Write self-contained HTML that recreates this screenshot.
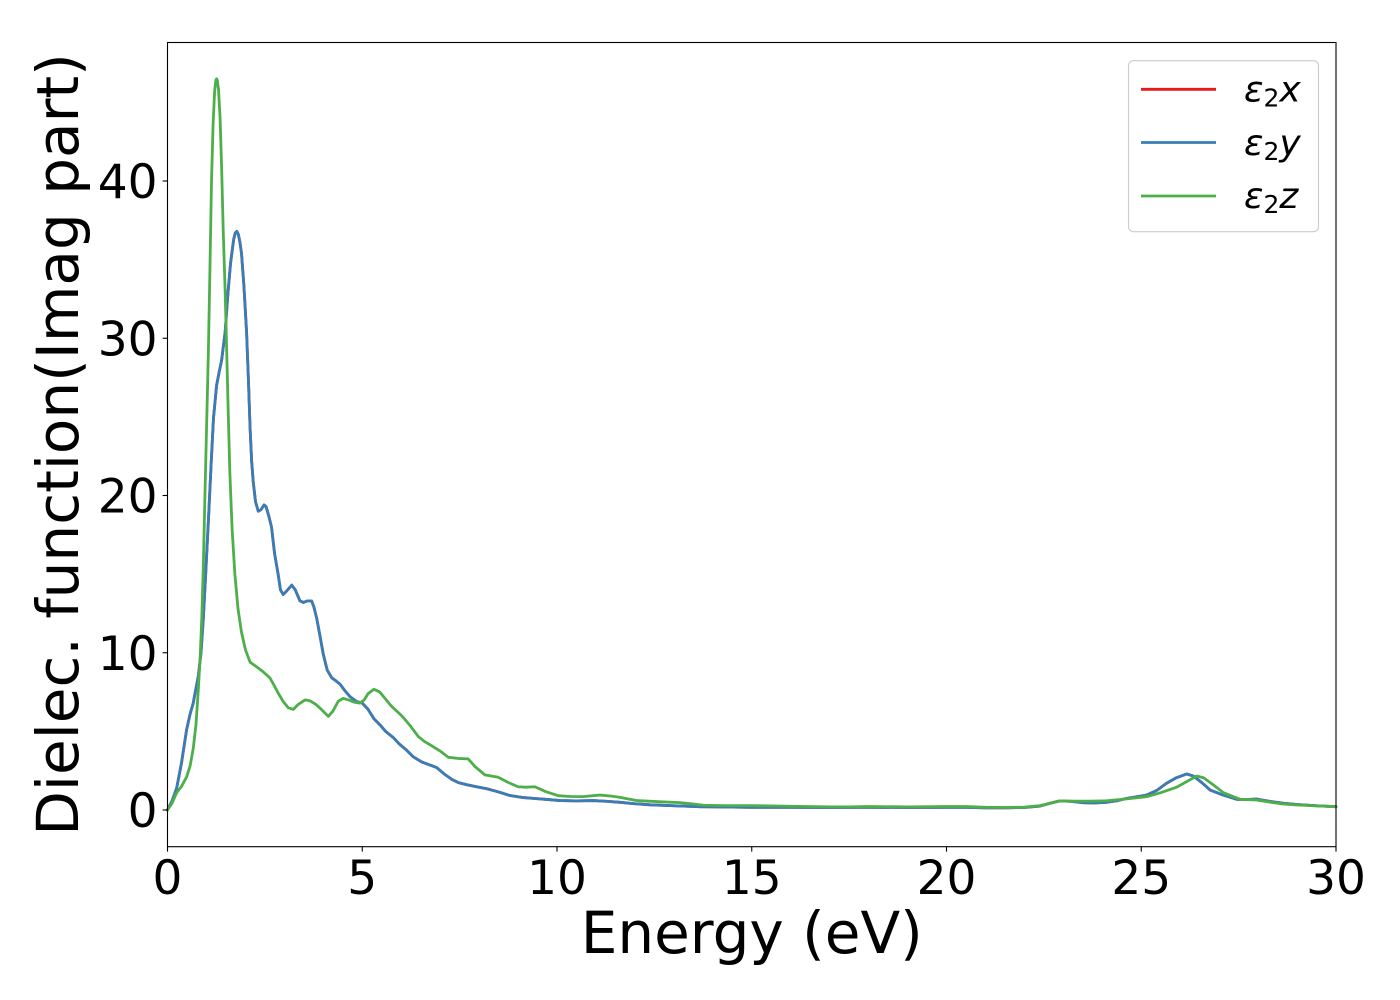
<!DOCTYPE html>
<html>
<head>
<meta charset="utf-8">
<style>
html,body{margin:0;padding:0;background:#fff;}
svg{display:block;}
text{font-family:"DejaVu Sans","Liberation Sans",sans-serif;fill:#000;}
</style>
</head>
<body>
<svg width="1400" height="1000" viewBox="0 0 1400 1000" xmlns="http://www.w3.org/2000/svg">
<rect x="0" y="0" width="1400" height="1000" fill="#fff"/>

<g transform="translate(167.5,810) scale(38.95,-15.725)" fill="none" stroke-linejoin="round" stroke-linecap="round">
<polyline vector-effect="non-scaling-stroke" stroke="#e41a1c" stroke-width="2.8" points="0,0 0.12,0.6 0.236,1.4 0.36,3.0 0.49,5.1 0.58,6.1 0.66,6.8 0.79,8.5 0.86,10.0 0.92,12.2 0.98,15.0 1.05,18.4 1.12,22.0 1.18,24.9 1.26,27.0 1.33,27.9 1.39,28.6 1.48,30.4 1.55,32.8 1.62,34.8 1.70,36.3 1.74,36.7 1.78,36.8 1.82,36.6 1.86,36.1 1.90,35.4 1.96,33.4 2.03,30.4 2.08,27.2 2.12,24.3 2.16,22.2 2.20,20.9 2.26,19.6 2.33,19.0 2.40,19.1 2.48,19.4 2.53,19.3 2.60,18.7 2.67,18.0 2.75,16.3 2.84,15.0 2.90,14.0 2.97,13.7 3.05,13.9 3.19,14.3 3.28,14.0 3.40,13.3 3.49,13.2 3.60,13.3 3.70,13.3 3.76,12.9 3.83,12.2 3.92,11.0 4.00,9.9 4.10,8.9 4.22,8.4 4.33,8.2 4.43,8.0 4.55,7.6 4.69,7.2 4.85,6.9 5.0,6.8 5.15,6.4 5.30,5.8 5.46,5.4 5.6,5.0 5.8,4.6 5.95,4.2 6.14,3.8 6.30,3.4 6.53,3.05 6.75,2.85 6.91,2.7 7.1,2.3 7.3,1.95 7.47,1.74 7.7,1.6 8.0,1.45 8.2,1.35 8.5,1.15 8.79,0.92 9.1,0.80 9.39,0.74 9.7,0.68 10.08,0.60 10.5,0.58 10.93,0.60 11.3,0.55 11.62,0.49 12.0,0.40 12.39,0.33 13.0,0.27 13.67,0.21 14.3,0.19 14.96,0.17 16,0.17 17,0.16 18,0.17 19,0.16 20,0.17 20.5,0.17 21,0.14 21.5,0.14 22.0,0.16 22.4,0.25 22.66,0.43 22.91,0.58 23.2,0.55 23.51,0.46 23.8,0.45 24.11,0.49 24.4,0.60 24.63,0.74 24.9,0.85 25.14,0.95 25.4,1.25 25.65,1.70 25.9,2.05 26.17,2.29 26.34,2.16 26.55,1.75 26.77,1.27 27.1,0.95 27.45,0.68 27.7,0.66 27.96,0.70 28.3,0.55 28.65,0.43 29.0,0.35 29.5,0.27 30.0,0.21"/>
<polyline vector-effect="non-scaling-stroke" stroke="#377eb8" stroke-width="2.8" points="0,0 0.12,0.6 0.236,1.4 0.36,3.0 0.49,5.1 0.58,6.1 0.66,6.8 0.79,8.5 0.86,10.0 0.92,12.2 0.98,15.0 1.05,18.4 1.12,22.0 1.18,24.9 1.26,27.0 1.33,27.9 1.39,28.6 1.48,30.4 1.55,32.8 1.62,34.8 1.70,36.3 1.74,36.7 1.78,36.8 1.82,36.6 1.86,36.1 1.90,35.4 1.96,33.4 2.03,30.4 2.08,27.2 2.12,24.3 2.16,22.2 2.20,20.9 2.26,19.6 2.33,19.0 2.40,19.1 2.48,19.4 2.53,19.3 2.60,18.7 2.67,18.0 2.75,16.3 2.84,15.0 2.90,14.0 2.97,13.7 3.05,13.9 3.19,14.3 3.28,14.0 3.40,13.3 3.49,13.2 3.60,13.3 3.70,13.3 3.76,12.9 3.83,12.2 3.92,11.0 4.00,9.9 4.10,8.9 4.22,8.4 4.33,8.2 4.43,8.0 4.55,7.6 4.69,7.2 4.85,6.9 5.0,6.8 5.15,6.4 5.30,5.8 5.46,5.4 5.6,5.0 5.8,4.6 5.95,4.2 6.14,3.8 6.30,3.4 6.53,3.05 6.75,2.85 6.91,2.7 7.1,2.3 7.3,1.95 7.47,1.74 7.7,1.6 8.0,1.45 8.2,1.35 8.5,1.15 8.79,0.92 9.1,0.80 9.39,0.74 9.7,0.68 10.08,0.60 10.5,0.58 10.93,0.60 11.3,0.55 11.62,0.49 12.0,0.40 12.39,0.33 13.0,0.27 13.67,0.21 14.3,0.19 14.96,0.17 16,0.17 17,0.16 18,0.17 19,0.16 20,0.17 20.5,0.17 21,0.14 21.5,0.14 22.0,0.16 22.4,0.25 22.66,0.43 22.91,0.58 23.2,0.55 23.51,0.46 23.8,0.45 24.11,0.49 24.4,0.60 24.63,0.74 24.9,0.85 25.14,0.95 25.4,1.25 25.65,1.70 25.9,2.05 26.17,2.29 26.34,2.16 26.55,1.75 26.77,1.27 27.1,0.95 27.45,0.68 27.7,0.66 27.96,0.70 28.3,0.55 28.65,0.43 29.0,0.35 29.5,0.27 30.0,0.21"/>
<polyline vector-effect="non-scaling-stroke" stroke="#4daf4a" stroke-width="2.8" points="0,0 0.12,0.45 0.236,1.1 0.36,1.5 0.49,2.1 0.58,2.8 0.66,3.9 0.73,5.4 0.79,7.6 0.84,9.8 0.88,12.2 0.92,15.5 0.96,19.9 1.00,24.0 1.05,29.2 1.09,34.5 1.13,40.0 1.17,43.6 1.21,45.7 1.24,46.4 1.26,46.5 1.28,46.4 1.31,45.8 1.35,44.0 1.39,40.8 1.43,36.9 1.48,33.0 1.52,29.2 1.56,25.2 1.60,21.5 1.66,17.8 1.73,15.0 1.81,12.8 1.90,11.3 2.00,10.2 2.12,9.4 2.29,9.1 2.45,8.8 2.63,8.4 2.72,8.0 2.85,7.4 2.97,6.9 3.10,6.5 3.23,6.4 3.35,6.7 3.53,7.0 3.65,6.95 3.79,6.75 3.95,6.4 4.13,5.95 4.25,6.3 4.38,6.9 4.51,7.1 4.65,7.0 4.80,6.85 4.94,6.8 5.05,7.0 5.15,7.4 5.30,7.68 5.45,7.5 5.60,7.05 5.75,6.6 5.88,6.3 6.01,6.0 6.10,5.75 6.25,5.3 6.44,4.67 6.60,4.35 6.82,4.03 7.0,3.75 7.21,3.35 7.45,3.28 7.72,3.25 7.9,2.75 8.15,2.23 8.49,2.08 8.75,1.75 9.0,1.48 9.2,1.45 9.43,1.48 9.7,1.18 10.03,0.91 10.35,0.86 10.67,0.85 11.1,0.95 11.4,0.88 11.62,0.80 12.05,0.60 12.6,0.53 13.16,0.47 13.5,0.38 13.76,0.30 14.3,0.28 14.96,0.28 16,0.24 17,0.20 17.5,0.2 18,0.22 19,0.2 20,0.22 20.5,0.22 21,0.17 21.5,0.16 22.0,0.18 22.4,0.28 22.66,0.43 22.91,0.58 23.3,0.56 23.7,0.56 24.11,0.59 24.6,0.70 25.14,0.85 25.5,1.1 25.9,1.44 26.2,1.85 26.42,2.16 26.6,2.05 26.85,1.6 27.11,1.1 27.54,0.68 27.96,0.64 28.3,0.5 28.65,0.38 29.0,0.32 29.5,0.26 30.0,0.21"/>
</g>

<!-- axes frame -->
<rect x="167.5" y="42.5" width="1168.5" height="804.2" fill="none" stroke="#000" stroke-width="1.1"/>

<!-- ticks -->
<g stroke="#000" stroke-width="1.1">
<line x1="162.6" y1="810" x2="167.5" y2="810"/>
<line x1="162.6" y1="652.75" x2="167.5" y2="652.75"/>
<line x1="162.6" y1="495.5" x2="167.5" y2="495.5"/>
<line x1="162.6" y1="338.25" x2="167.5" y2="338.25"/>
<line x1="162.6" y1="181" x2="167.5" y2="181"/>
<line x1="167.5" y1="846.7" x2="167.5" y2="851.6"/>
<line x1="362.25" y1="846.7" x2="362.25" y2="851.6"/>
<line x1="557" y1="846.7" x2="557" y2="851.6"/>
<line x1="751.75" y1="846.7" x2="751.75" y2="851.6"/>
<line x1="946.5" y1="846.7" x2="946.5" y2="851.6"/>
<line x1="1141.25" y1="846.7" x2="1141.25" y2="851.6"/>
<line x1="1336" y1="846.7" x2="1336" y2="851.6"/>
</g>

<!-- y tick labels -->
<g font-size="47" text-anchor="end">
<text x="157.5" y="827">0</text>
<text x="157.5" y="669.75">10</text>
<text x="157.5" y="512.5">20</text>
<text x="157.5" y="355.25">30</text>
<text x="157.5" y="198">40</text>
</g>

<!-- x tick labels -->
<g font-size="47" text-anchor="middle">
<text x="167.5" y="894">0</text>
<text x="362.25" y="894">5</text>
<text x="557" y="894">10</text>
<text x="751.75" y="894">15</text>
<text x="946.5" y="894">20</text>
<text x="1141.25" y="894">25</text>
<text x="1336" y="894">30</text>
</g>

<!-- axis labels -->
<text x="751.75" y="953" font-size="58" text-anchor="middle">Energy (eV)</text>
<text transform="translate(78,444.5) rotate(-90)" font-size="58" text-anchor="middle">Dielec. function(Imag part)</text>

<!-- legend -->
<rect x="1128.5" y="60.7" width="190" height="171" rx="5" ry="5" fill="#fff" fill-opacity="0.8" stroke="#cccccc" stroke-width="1.1"/>
<g stroke-width="2.8">
<line x1="1141" y1="89.3" x2="1216" y2="89.3" stroke="#e41a1c"/>
<line x1="1141" y1="142.5" x2="1216" y2="142.5" stroke="#377eb8"/>
<line x1="1141" y1="196" x2="1216" y2="196" stroke="#4daf4a"/>
</g>
<g font-size="36">
<text x="1244" y="101.7"><tspan font-style="italic">ε</tspan><tspan font-size="25" dy="5">2</tspan><tspan font-style="italic" dy="-5">x</tspan></text>
<text x="1244" y="155"><tspan font-style="italic">ε</tspan><tspan font-size="25" dy="5">2</tspan><tspan font-style="italic" dy="-5">y</tspan></text>
<text x="1244" y="208.2"><tspan font-style="italic">ε</tspan><tspan font-size="25" dy="5">2</tspan><tspan font-style="italic" dy="-5">z</tspan></text>
</g>
</svg>
</body>
</html>
